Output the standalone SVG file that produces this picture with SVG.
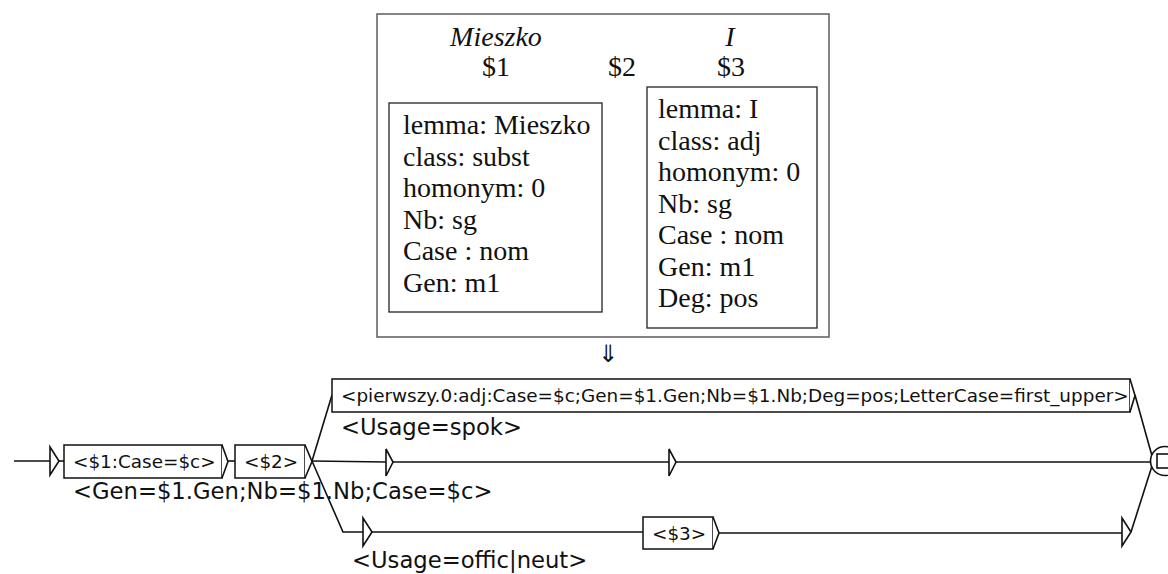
<svg xmlns="http://www.w3.org/2000/svg" width="1168" height="574" viewBox="0 0 1168 574">
<style>
.serif{font-family:"Liberation Serif","Times New Roman",serif;font-size:28px;fill:#111}
.it{font-style:italic}
.lbl{font-family:"DejaVu Sans",Verdana,sans-serif;font-size:18.4px;fill:#111}
.out{font-family:"DejaVu Sans",Verdana,sans-serif;font-size:22.7px;fill:#111}
.box{fill:#fff;stroke:#111;stroke-width:1.5}
.fbox{fill:none;stroke:#222;stroke-width:1.3}
.ln{fill:none;stroke:#111;stroke-width:1.6}
.tri{fill:#fff;stroke:#111;stroke-width:1.6;stroke-linejoin:miter}
</style>
<rect width="1168" height="574" fill="#fff"/>
<g id="example">
<rect x="377" y="14" width="452" height="323" fill="none" stroke="#666" stroke-width="1.6"/>
<text class="serif it" x="496" y="46" text-anchor="middle">Mieszko</text>
<text class="serif it" x="730" y="46" text-anchor="middle">I</text>
<text class="serif" x="496" y="76" text-anchor="middle">$1</text>
<text class="serif" x="622" y="76" text-anchor="middle">$2</text>
<text class="serif" x="731" y="76" text-anchor="middle">$3</text>
<g id="features1">
<rect class="fbox" x="389" y="103" width="213" height="209"/>
<text class="serif" x="403" y="134">lemma: Mieszko</text>
<text class="serif" x="403" y="165.5">class: subst</text>
<text class="serif" x="403" y="197">homonym: 0</text>
<text class="serif" x="403" y="228.5">Nb: sg</text>
<text class="serif" x="403" y="260">Case : nom</text>
<text class="serif" x="403" y="291.5">Gen: m1</text>
</g>
<g id="features3">
<rect class="fbox" x="647" y="87" width="170" height="241"/>
<text class="serif" x="658" y="118">lemma: I</text>
<text class="serif" x="658" y="149.5">class: adj</text>
<text class="serif" x="658" y="181">homonym: 0</text>
<text class="serif" x="658" y="212.5">Nb: sg</text>
<text class="serif" x="658" y="244">Case : nom</text>
<text class="serif" x="658" y="275.5">Gen: m1</text>
<text class="serif" x="658" y="307">Deg: pos</text>
</g>
</g>
<text x="608" y="362" text-anchor="middle" font-family="DejaVu Sans, sans-serif" font-size="24" fill="#111">⇓</text>
<g id="connectors">
<path class="ln" d="M14 461H50"/>
<path class="ln" d="M59 461H64"/>
<path class="ln" d="M228 461H235"/>
<path class="ln" d="M312 461L332 395"/>
<path class="ln" d="M312 461L386 462"/>
<path class="ln" d="M312 461L343 532H363"/>
<path class="ln" d="M393 462H669"/>
<path class="ln" d="M676 462H1151"/>
<path class="ln" d="M372 532H643"/>
<path class="ln" d="M719 533H1122"/>
<path class="ln" d="M1131 532L1152 466"/>
<path class="ln" d="M1135 395L1152 456"/>
</g>
<g id="initial">
<path class="tri" d="M50 447L59 461L50 475Z"/>
</g>
<g id="box1">
<rect class="box" x="64" y="445" width="158" height="33"/>
<path class="tri" d="M222 445L228 461.5L222 478"/>
<text class="lbl" x="73" y="468">&lt;$1:Case=$c&gt;</text>
<text class="out" x="73" y="499" font-size="23">&lt;Gen=$1.Gen;Nb=$1.Nb;Case=$c&gt;</text>
</g>
<g id="box2">
<rect class="box" x="235" y="445" width="70" height="33"/>
<path class="tri" d="M305 445L312 461.5L305 478"/>
<text class="lbl" x="244" y="468">&lt;$2&gt;</text>
</g>
<g id="box-pierwszy">
<rect class="box" x="332" y="379" width="798" height="33"/>
<path class="tri" d="M1130 379L1135 395.5L1130 412"/>
<text class="lbl" x="341" y="402">&lt;pierwszy.0:adj:Case=$c;Gen=$1.Gen;Nb=$1.Nb;Deg=pos;LetterCase=first_upper&gt;</text>
<text class="out" x="341" y="435">&lt;Usage=spok&gt;</text>
</g>
<g id="empty-mid1">
<path class="tri" d="M386 449L393 462L386 476Z"/>
</g>
<g id="empty-mid2">
<path class="tri" d="M669 449L676 462L669 476Z"/>
</g>
<g id="empty-bottom1">
<path class="tri" d="M363 518L372 532L363 546Z"/>
<text class="out" x="352" y="568">&lt;Usage=offic|neut&gt;</text>
</g>
<g id="box3">
<rect class="box" x="643" y="517" width="70" height="32"/>
<path class="tri" d="M713 517L719 533L713 549"/>
<text class="lbl" x="652" y="539.5">&lt;$3&gt;</text>
</g>
<g id="empty-bottom2">
<path class="tri" d="M1122 518L1131 532L1122 546Z"/>
</g>
<g id="final">
<circle cx="1165" cy="461" r="14.5" fill="#fff" stroke="#111" stroke-width="1.6"/>
<rect x="1157" y="454" width="16" height="14" fill="#fff" stroke="#111" stroke-width="1.6"/>
</g>
</svg>
